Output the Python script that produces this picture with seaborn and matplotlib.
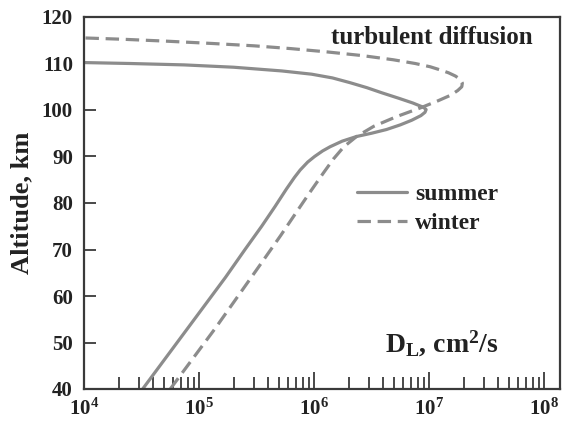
import numpy as np
import pandas as pd
import matplotlib
matplotlib.use("Agg")
import matplotlib.pyplot as plt
from matplotlib.ticker import LogLocator, NullFormatter, FixedLocator, FixedFormatter
import seaborn as sns

# ---- data ----
summer_alt = [40, 46, 52, 58, 64, 70, 75, 79.2, 83, 85.5, 87.1, 88.8, 90, 91.2, 92.1,
              93.3, 94.3, 95.0, 95.8, 96.8, 97.8, 98.8, 99.5, 100.1, 100.6, 101.5,
              102.5, 103.7, 104.8, 105.9, 106.9, 107.7, 108.4, 109.2, 109.7, 110.0, 110.2]
summer_logD = [4.51, 4.69, 4.87, 5.05, 5.23, 5.40, 5.545, 5.66, 5.76, 5.83, 5.88, 5.945,
               6.005, 6.075, 6.14, 6.245, 6.37, 6.50, 6.63, 6.75, 6.85, 6.93, 6.965,
               6.975, 6.95, 6.86, 6.74, 6.59, 6.46, 6.31, 6.16, 5.98, 5.72, 5.30, 4.87,
               4.40, 4.0]
winter_alt = [40, 46, 53, 60, 67, 73, 78.5, 82.5, 86.4, 89.5, 92.1, 94.3, 96.5, 98.6,
              100.5, 102, 103.2, 104.2, 105.0, 105.8, 106.6, 107.3, 108.0, 108.6, 109.3,
              110.0, 110.8, 111.7, 112.5, 113.2, 113.8, 114.3, 114.8, 115.2, 115.5]
winter_logD = [4.75, 4.93, 5.14, 5.34, 5.54, 5.71, 5.86, 5.97, 6.08, 6.17, 6.26, 6.37,
               6.52, 6.72, 6.93, 7.08, 7.19, 7.25, 7.285, 7.29, 7.27, 7.23, 7.17, 7.10,
               7.01, 6.88, 6.69, 6.42, 6.11, 5.80, 5.48, 5.12, 4.72, 4.35, 4.0]
season_labels = ["summer", "winter"]
x_tick_values = [1e4, 1e5, 1e6, 1e7, 1e8]
x_tick_labels = [r"$\mathbf{10^{4}}$", r"$\mathbf{10^{5}}$", r"$\mathbf{10^{6}}$",
                 r"$\mathbf{10^{7}}$", r"$\mathbf{10^{8}}$"]
y_tick_values = [40, 50, 60, 70, 80, 90, 100, 110, 120]

summer_df = pd.DataFrame({"D": 10 ** np.array(summer_logD), "alt": summer_alt})
winter_df = pd.DataFrame({"D": 10 ** np.array(winter_logD), "alt": winter_alt})

# ---- style ----
sns.set_style("ticks")
plt.rcParams["font.family"] = ["Liberation Serif", "DejaVu Serif"]
plt.rcParams["font.weight"] = "bold"
plt.rcParams["mathtext.fontset"] = "custom"
plt.rcParams["mathtext.rm"] = "Liberation Serif:bold"
plt.rcParams["mathtext.it"] = "Liberation Serif:bold"
plt.rcParams["mathtext.bf"] = "Liberation Serif:bold"

line_color = "#8c8c8c"
text_color = "#222222"
spine_color = "#3a3a3a"
tick_fs = 15
text_fs = 18

fig = plt.figure(figsize=(5.64, 4.25), dpi=100)
ax = fig.add_axes([84 / 564, 1 - 389 / 425, (560 - 84) / 564, (389 - 17) / 425])

sns.lineplot(data=summer_df, x="D", y="alt", sort=False, estimator=None, ax=ax,
             color=line_color, linewidth=2.3, label=season_labels[0])
sns.lineplot(data=winter_df, x="D", y="alt", sort=False, estimator=None, ax=ax,
             color=line_color, linewidth=2.3, linestyle=(0, (4.2, 2.1)),
             label=season_labels[1])

ax.set_xscale("log")
ax.set_xlim(1e4, 10 ** (4 + 476 / 115))
ax.set_ylim(40, 120)

ax.xaxis.set_major_locator(FixedLocator(x_tick_values))
ax.xaxis.set_major_formatter(FixedFormatter(x_tick_labels))
ax.xaxis.set_minor_locator(LogLocator(base=10, subs=np.arange(2, 10), numticks=100))
ax.xaxis.set_minor_formatter(NullFormatter())
ax.yaxis.set_major_locator(FixedLocator(y_tick_values))
ax.yaxis.set_minor_locator(FixedLocator([]))

ax.tick_params(axis="x", which="major", direction="in", length=12, width=1.3,
               color=spine_color, labelsize=tick_fs, labelcolor=text_color, pad=7,
               top=False)
ax.tick_params(axis="x", which="minor", direction="in", length=8.5, width=1.3,
               color=spine_color, top=False)
ax.tick_params(axis="y", which="major", direction="in", length=8.5, width=1.3,
               color=spine_color, labelsize=tick_fs, labelcolor=text_color, pad=8,
               right=False)
for lab in ax.get_yticklabels():
    lab.set_fontweight("bold")

for s in ax.spines.values():
    s.set_visible(True)
    s.set_color(spine_color)
    s.set_linewidth(1.6)

ax.set_xlabel("")
ax.set_ylabel("Altitude, km", fontsize=19, fontweight="bold", color=text_color,
              labelpad=6)

ax.text(0.731, 0.946, "turbulent diffusion", transform=ax.transAxes, ha="center",
        va="center", fontsize=text_fs, fontweight="bold", color=text_color)
ax.text(0.752, 0.12, r"$\mathbf{D_L}$, cm$^{\mathbf{2}}$/s", transform=ax.transAxes,
        ha="center", va="center", fontsize=20, fontweight="bold", color=text_color)

leg = ax.legend(loc="center left", bbox_to_anchor=((357 - 84) / 476, (389 - 209) / 372),
                frameon=False, borderpad=0, borderaxespad=0, handlelength=2.1,
                handletextpad=0.35, labelspacing=0.3,
                prop={"size": 17, "weight": "bold"})
for t in leg.get_texts():
    t.set_color(text_color)

fig.savefig("out.png", dpi=100)
